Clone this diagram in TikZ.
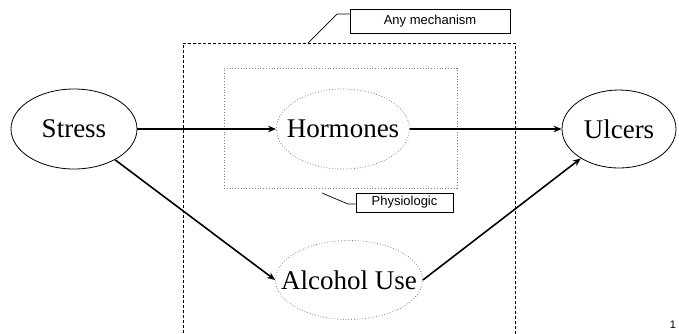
\documentclass[tikz,border=0pt]{standalone}
\usepackage{fontspec}
\setmainfont{Liberation Serif}
\setsansfont{Liberation Sans}
\usetikzlibrary{shapes.geometric,arrows.meta}
\newcommand{\zw}[1]{\makebox[0pt]{#1}}
\tikzset{
  mainnode/.style={ellipse,draw=black,line width=0.8pt,inner sep=0pt,font=\fontsize{27}{29}\selectfont},
  innernode/.style={ellipse,draw=gray,dotted,line width=0.8pt,inner sep=0pt,font=\fontsize{27}{29}\selectfont},
  arr/.style={line width=1.6pt,-{Stealth[length=8pt,width=6.5pt]}},
  labelbox/.style={draw=black,line width=0.7pt,inner sep=0pt,font=\sffamily\fontsize{13}{15}\selectfont},
  leader/.style={line width=0.7pt},
}
\begin{document}
\begin{tikzpicture}[x=1pt,y=-1pt]
\useasboundingbox (0,0) rectangle (679,333);
% outer dashed box (runs off bottom)
\draw[line width=0.8pt,dash pattern=on 3pt off 2pt] (183,338) -- (183,43) -- (515,43) -- (515,338);
% physiologic dotted box
\node[draw=gray,dotted,line width=0.8pt,minimum width=233pt,minimum height=120pt,inner sep=0pt] (phys) at (340.5,128) {};
% ellipses
\node[mainnode,minimum width=126pt,minimum height=80pt] (S) at (74,129) {\zw{Stress}};
\node[mainnode,minimum width=114pt,minimum height=78pt] (U) at (619,129) {\zw{Ulcers}};
\node[innernode,minimum width=133pt,minimum height=80pt] (H) at (343,129) {\zw{Hormones}};
\node[innernode,minimum width=147pt,minimum height=79pt] (A) at (349,280) {\zw{Alcohol Use}};
% arrows
\draw[arr] (S) -- (H);
\draw[arr] (H) -- (U);
\draw[arr] (S) -- (A.west);
\draw[arr] (A.east) -- (U);
% labels
\node[labelbox,minimum width=160pt,minimum height=24pt] (any) at (430,21) {Any mechanism};
\node[labelbox,minimum width=97pt,minimum height=19pt] (ph) at (404.5,202.5) {Physiologic};
\coordinate (anyk) at (337,14);
\coordinate (anyt) at (308,43);
\coordinate (phk) at (348,204);
\coordinate (pht) at (322,193);
\draw[leader] (any.west |- anyk) -- (anyk) -- (anyt);
\draw[leader] (ph.west |- phk) -- (phk) -- (pht);
% page number
\node[font=\sffamily\fontsize{11}{12}\selectfont,inner sep=0pt] (pg) at (673,325) {1};
\end{tikzpicture}
\end{document}
